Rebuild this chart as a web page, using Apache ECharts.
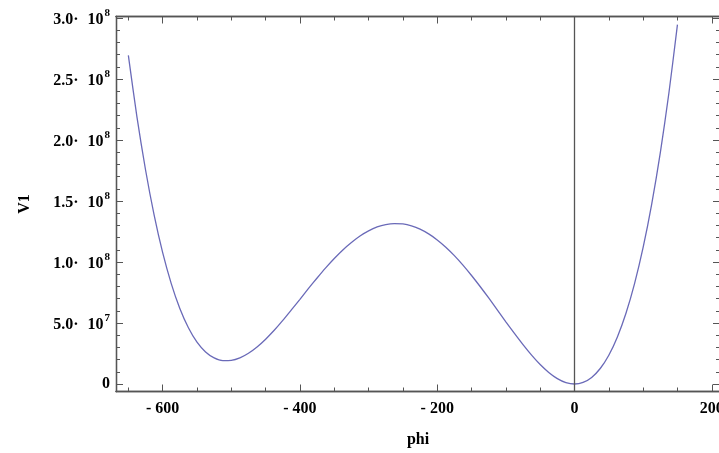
<!DOCTYPE html>
<html>
<head>
<meta charset="utf-8">
<script src="https://cdn.jsdelivr.net/npm/echarts@6/dist/echarts.min.js"></script>
<style>html,body{margin:0;padding:0;background:#fff;}#c{width:719px;height:453px;}</style>
</head>
<body>
<div id="c"></div>
<script>
// phi values (x) and V1 values (y)
var phi = [-650,-637.5,-625,-612.5,-600,-587.5,-575,-562.5,-550,-537.5,-525,-512.5,-500,-487.5,-475,-462.5,-450,-437.5,-425,-412.5,-400,-387.5,-375,-362.5,-350,-337.5,-325,-312.5,-300,-287.5,-275,-262.5,-250,-237.5,-225,-212.5,-200,-187.5,-175,-162.5,-150,-137.5,-125,-112.5,-100,-87.5,-75,-62.5,-50,-37.5,-25,-12.5,0,12.5,25,37.5,50,62.5,75,87.5,100,112.5,125,137.5,150];
var v1 = [2.693e8,2.189e8,1.756e8,1.386e8,1.076e8,8.23e7,6.19e7,4.61e7,3.43e7,2.63e7,2.14e7,1.918e7,1.937e7,2.137e7,2.516e7,3.03e7,3.67e7,4.40e7,5.21e7,6.07e7,6.94e7,7.83e7,8.69e7,9.52e7,1.029e8,1.099e8,1.160e8,1.213e8,1.255e8,1.287e8,1.307e8,1.315e8,1.312e8,1.296e8,1.269e8,1.230e8,1.181e8,1.121e8,1.052e8,9.74e7,8.89e7,7.99e7,7.05e7,6.08e7,5.10e7,4.15e7,3.23e7,2.37e7,1.60e7,9.49e6,4.44e6,1.17e6,0,1.29e6,5.39e6,1.271e7,2.36e7,3.86e7,5.80e7,8.23e7,1.119e8,1.475e8,1.894e8,2.383e8,2.945e8];
var xMajor = [-600,-400,-200,0,200];
var xMinor = [-650,-600,-550,-500,-450,-400,-350,-300,-250,-200,-150,-100,-50,0,50,100,150,200];
var yMajor = [0,5e7,1e8,1.5e8,2e8,2.5e8,3e8];
var yMinor = [0,1e7,2e7,3e7,4e7,5e7,6e7,7e7,8e7,9e7,1e8,1.1e8,1.2e8,1.3e8,1.4e8,1.5e8,1.6e8,1.7e8,1.8e8,1.9e8,2e8,2.1e8,2.2e8,2.3e8,2.4e8,2.5e8,2.6e8,2.7e8,2.8e8,2.9e8,3e8];

var xMin = -668, xMax = 212, yMin = -6.15e6, yMax = 3.012e8;
var lineCol = '#555';
var font = 'Liberation Serif';

function yFmt(v) {
  if (v === 0) return '{m|0}';
  var e = Math.floor(Math.log10(v) + 1e-9);
  var m = (v / Math.pow(10, e)).toFixed(1);
  return '{m|' + m + '\u00b7}{g|10}{s|' + e + '}';
}
function xFmt(v) {
  return v < 0 ? '- ' + Math.abs(v) : String(v);
}

function xAx(pos, major, labels) {
  return {
    type: 'value', position: pos, min: xMin, max: xMax,
    axisLine: {show: true, onZero: false, lineStyle: {color: lineCol, width: 1.3}},
    splitLine: {show: false},
    axisTick: {show: true, inside: true, length: major ? 7 : 4, customValues: major ? xMajor : xMinor,
      lineStyle: {color: lineCol, width: 1}},
    axisLabel: labels ? {show: true, customValues: xMajor, formatter: xFmt, margin: 9,
      fontFamily: font, fontWeight: 'bold', fontSize: 16, color: '#000'} : {show: false},
    name: labels ? 'phi' : '', nameLocation: 'middle', nameGap: 40,
    nameTextStyle: {fontFamily: font, fontWeight: 'bold', fontSize: 16, color: '#000'}
  };
}
function yAx(pos, major, labels) {
  return {
    type: 'value', position: pos, min: yMin, max: yMax,
    axisLine: {show: true, onZero: false, lineStyle: {color: lineCol, width: 1.3}},
    splitLine: {show: false},
    axisTick: {show: true, inside: true, length: major ? 7 : 4, customValues: major ? yMajor : yMinor,
      lineStyle: {color: lineCol, width: 1}},
    axisLabel: labels ? {show: true, customValues: yMajor, formatter: yFmt, margin: 6,
      rich: {
        m: {fontFamily: font, fontWeight: 'bold', fontSize: 16, color: '#000', verticalAlign: 'bottom', height: 16},
        g: {fontFamily: font, fontWeight: 'bold', fontSize: 16, color: '#000', verticalAlign: 'bottom', height: 16, padding: [0, 0, 0, 9]},
        s: {fontFamily: font, fontWeight: 'bold', fontSize: 11, color: '#000', verticalAlign: 'bottom', padding: [0, 0, 9, 1]}
      }} : {show: false},
    name: labels ? 'V1' : '', nameLocation: 'middle', nameGap: 83, nameRotate: 90,
    nameTextStyle: {fontFamily: font, fontWeight: 'bold', fontSize: 16, color: '#000'}
  };
}

var data = phi.map(function (p, i) { return [p, v1[i]]; });

var chart = echarts.init(document.getElementById('c'), null, {renderer: 'canvas'});
chart.setOption({
  animation: false,
  backgroundColor: '#fff',
  grid: {left: 116, top: 16.5, width: 604, bottom: 61.5, containLabel: false, outerBoundsMode: 'none'},
  xAxis: [xAx('bottom', true, true), xAx('bottom', false, false), xAx('top', true, false), xAx('top', false, false)],
  yAxis: [yAx('left', true, true), yAx('left', false, false), yAx('right', true, false), yAx('right', false, false)],
  series: [{
    type: 'line', xAxisIndex: 0, yAxisIndex: 0, data: data, smooth: 0.25, showSymbol: false,
    lineStyle: {color: '#6a6ab8', width: 1.3},
    markLine: {silent: true, symbol: 'none', label: {show: false},
      lineStyle: {color: '#555', width: 1.3, type: 'solid'},
      data: [{xAxis: 0}]}
  }]
});
</script>
</body>
</html>
